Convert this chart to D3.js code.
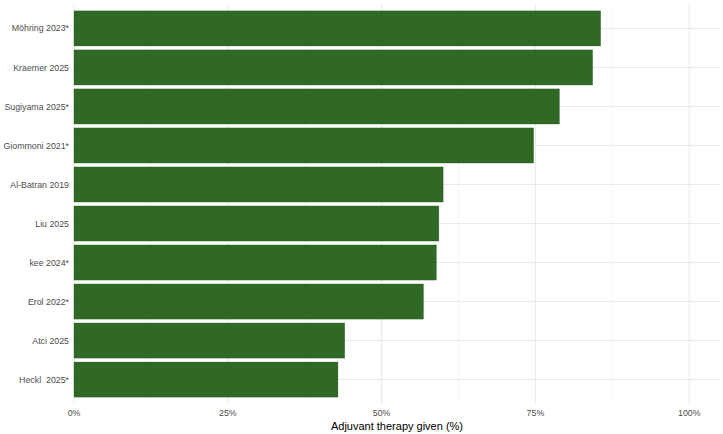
<!DOCTYPE html>
<html>
<head>
<meta charset="utf-8">
<script src="https://cdn.jsdelivr.net/npm/d3@7"></script>
<style>
  body { margin: 0; background: #fff; }
  text { font-family: "Liberation Sans", Arial, sans-serif; white-space: pre; }
</style>
</head>
<body>
<div id="chart_container"></div>
<script>
// Data (top to bottom)
var studies = ["Möhring 2023*", "Kraemer 2025", "Sugiyama 2025*", "Giommoni 2021*", "Al-Batran 2019",
               "Liu 2025", "kee 2024*", "Erol 2022*", "Atci 2025", "Heckl  2025*"];
var given_pct = [85.6, 84.3, 78.9, 74.7, 60.0, 59.3, 58.9, 56.8, 44.0, 42.9];
var x_ticks = [0, 25, 50, 75, 100];
var x_minor = [12.5, 37.5, 62.5, 87.5];

// Chart dimensions
var width = 723
var height = 434
var margin = {top: 5, right: 3, bottom: 31, left: 74}

var x_scale = d3.scaleLinear()
    .domain([0, 105])
    .range([margin.left, width - margin.right]);

var y_scale = d3.scaleBand()
    .domain(studies)
    .range([margin.top, height - margin.bottom])
    .paddingInner(0.1)
    .paddingOuter(0.15);

var svg = d3.select("#chart_container")
    .append("svg")
    .attr("width", width)
    .attr("height", height)
    .style("background-color", "white")

// Grid
svg.append("g")
    .selectAll("line")
    .data(x_minor)
    .enter()
    .append("line")
    .attr("x1", d => x_scale(d))
    .attr("x2", d => x_scale(d))
    .attr("y1", margin.top)
    .attr("y2", height - margin.bottom)
    .attr("stroke", "#ebebeb")
    .attr("stroke-width", 0.55);

svg.append("g")
    .selectAll("line")
    .data(x_ticks)
    .enter()
    .append("line")
    .attr("x1", d => x_scale(d))
    .attr("x2", d => x_scale(d))
    .attr("y1", margin.top)
    .attr("y2", height - margin.bottom)
    .attr("stroke", "#ebebeb")
    .attr("stroke-width", 1.07);

svg.append("g")
    .selectAll("line")
    .data(studies)
    .enter()
    .append("line")
    .attr("x1", x_scale(0) - 1)
    .attr("x2", width - margin.right)
    .attr("y1", d => y_scale(d) + y_scale.bandwidth() / 2)
    .attr("y2", d => y_scale(d) + y_scale.bandwidth() / 2)
    .attr("stroke", "#ebebeb")
    .attr("stroke-width", 1.07);

// Bars
svg.append("g")
    .selectAll("rect")
    .data(studies)
    .enter()
    .append("rect")
    .attr("x", x_scale(0))
    .attr("y", d => y_scale(d))
    .attr("width", (d, i) => x_scale(given_pct[i]) - x_scale(0))
    .attr("height", y_scale.bandwidth())
    .attr("fill", "rgb(25,88,14)")
    .attr("fill-opacity", 0.9)
    .attr("stroke", "rgb(25,88,14)")
    .attr("stroke-opacity", 0.45)
    .attr("stroke-width", 0.6);

// Y labels
svg.append("g")
    .selectAll("text")
    .data(studies)
    .enter()
    .append("text")
    .attr("x", margin.left - 5)
    .attr("y", d => y_scale(d) + y_scale.bandwidth() / 2)
    .attr("dy", "0.35em")
    .attr("text-anchor", "end")
    .attr("fill", "#4d4d4d")
    .style("font-size", "8.8px")
    .text(d => d);

// X tick labels
svg.append("g")
    .selectAll("text")
    .data(x_ticks)
    .enter()
    .append("text")
    .attr("x", d => x_scale(d))
    .attr("y", 416)
    .attr("text-anchor", "middle")
    .attr("fill", "#4d4d4d")
    .style("font-size", "8.8px")
    .text(d => d + "%");

// Axis title
svg.append("text")
    .attr("x", (x_scale(0) + x_scale(105)) / 2)
    .attr("y", 430)
    .attr("text-anchor", "middle")
    .attr("fill", "black")
    .style("font-size", "11px")
    .text("Adjuvant therapy given (%)");
</script>
</body>
</html>
